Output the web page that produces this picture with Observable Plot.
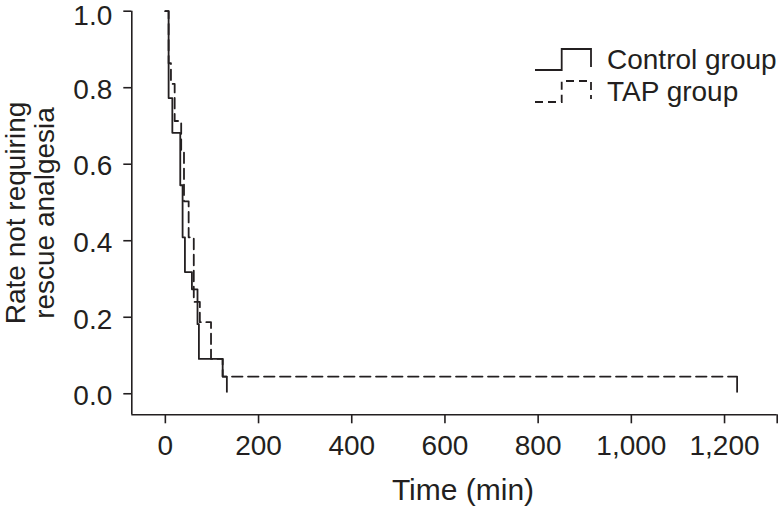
<!DOCTYPE html>
<html>
<head>
<meta charset="utf-8">
<script src="https://cdn.jsdelivr.net/npm/d3@7"></script>
<script src="https://cdn.jsdelivr.net/npm/@observablehq/plot@0.6"></script>
<style>
  html, body { margin: 0; padding: 0; background: #fff; }
  #wrap { position: relative; width: 779px; height: 506px; overflow: hidden; }
  #legend { position: absolute; left: 0; top: 0; pointer-events: none; }
  #wrap svg [aria-label$="tick"], #wrap svg .tick line { stroke-width: 1.6px; }
</style>
</head>
<body>
<div id="wrap"></div>
<script>
// ---- data ----
const seriesNames = ["Control group", "TAP group"];

const controlTime = [0, 7, 15, 32, 37, 42, 57, 69, 72, 123, 132];
const controlSurv = [1.0, 0.773, 0.682, 0.545, 0.409, 0.318, 0.273, 0.182, 0.091, 0.045, 0.045];

const tapTime = [0, 7, 12, 20, 34, 40, 50, 61, 74, 98, 123, 1227];
const tapSurv = [1.0, 0.864, 0.81, 0.713, 0.635, 0.503, 0.409, 0.24, 0.187, 0.091, 0.045, 0.045];

const censorTime = [132, 1227];
const censorSurv = [0.045, 0.045];

const xTicks = [0, 200, 400, 600, 800, 1000, 1200];
const xTickLabels = ["0", "200", "400", "600", "800", "1,000", "1,200"];
const yTicks = [0, 0.2, 0.4, 0.6, 0.8, 1.0];
const yTickLabels = ["0.0", "0.2", "0.4", "0.6", "0.8", "1.0"];

const xLabel = "Time (min)";
const yLabel = "Rate not requiring\nrescue analgesia";

// ---- build tables ----
const ink = "#231f20";
const font = "'Liberation Sans', Arial, Helvetica, sans-serif";
const xDomain = [-72, 1313];
const yDomain = [-0.055, 1.0];

const control = controlTime.map((t, i) => ({t, s: controlSurv[i]}));
const tap = tapTime.map((t, i) => ({t, s: tapSurv[i]}));
const censored = censorTime.map((t, i) => ({t, s: censorSurv[i]}));
const yTickRows = yTicks.map((v, i) => ({v, label: yTickLabels[i]}));
const yTop = yDomain[1];
const yTickRowsInner = yTickRows.filter(d => d.v < yTop);
const yTickRowsTop = yTickRows.filter(d => d.v >= yTop);

const censorTick = {
  draw(context) {
    context.moveTo(0, 0.5);
    context.lineTo(0, 16);
  }
};

const allXTicks = [...xTicks, xDomain[1]];
const yTickText = {x: undefined, y: "v", text: "label", frameAnchor: "left", textAnchor: "end", lineAnchor: "middle", dx: -19.5, fontSize: 28, fill: ink};

const chart = Plot.plot({
  width: 779,
  height: 506,
  marginLeft: 131.3,
  marginRight: 2.3,
  marginTop: 10.7,
  marginBottom: 91.7,
  style: {fontFamily: font, fontSize: "28px", color: ink, background: "#fff", overflow: "visible"},
  x: {
    domain: xDomain,
    ticks: allXTicks,
    tickFormat: d => { const i = xTicks.indexOf(d); return i < 0 ? "" : xTickLabels[i]; },
    tickSize: 9,
    tickPadding: 11,
    label: null
  },
  y: {
    domain: yDomain,
    ticks: yTicks,
    tickFormat: () => "",
    tickSize: 8,
    tickPadding: 11.5,
    label: null
  },
  marks: [
    Plot.ruleX([xDomain[0]], {stroke: ink, strokeWidth: 1.6}),
    Plot.ruleY([yDomain[0]], {stroke: ink, strokeWidth: 1.6}),
    Plot.text(yTickRowsInner, {...yTickText, dy: 2.3}),
    Plot.text(yTickRowsTop, {...yTickText, dy: 5.2}),
    Plot.line(tap, {x: "t", y: "s", curve: "step-after", stroke: ink, strokeWidth: 1.8, strokeDasharray: "10.5,5.5"}),
    Plot.line(control, {x: "t", y: "s", curve: "step-after", stroke: ink, strokeWidth: 1.8}),
    Plot.dot(censored, {x: "t", y: "s", symbol: censorTick, stroke: ink, fill: "none", strokeWidth: 1.8}),
    Plot.text([xLabel], {text: d => d, frameAnchor: "bottom", textAnchor: "middle", lineAnchor: "middle", dx: 8.5, dy: 75.8, fontSize: 30, fill: ink}),
    Plot.text([yLabel], {text: d => d, frameAnchor: "left", textAnchor: "middle", lineAnchor: "middle", rotate: -90, dx: -101.6, lineHeight: 1.05, fontSize: 28, fill: ink})
  ]
});

const wrap = document.getElementById("wrap");
wrap.appendChild(chart);

// ---- legend (overlay) ----
const ns = "http://www.w3.org/2000/svg";
const leg = document.createElementNS(ns, "svg");
leg.setAttribute("id", "legend");
leg.setAttribute("width", 779);
leg.setAttribute("height", 506);
const legendRows = [
  {name: seriesNames[0], dash: null, base: 70},
  {name: seriesNames[1], dash: "8,5", base: 102}
];
legendRows.forEach(r => {
  const p = document.createElementNS(ns, "path");
  p.setAttribute("d", `M535,${r.base} H561.7 V${r.base - 21} H591 V${r.base - 3}`);
  p.setAttribute("fill", "none");
  p.setAttribute("stroke", ink);
  p.setAttribute("stroke-width", 1.8);
  if (r.dash) p.setAttribute("stroke-dasharray", r.dash);
  leg.appendChild(p);
  const t = document.createElementNS(ns, "text");
  t.setAttribute("x", 607);
  t.setAttribute("y", r.base - 1);
  t.setAttribute("fill", ink);
  t.setAttribute("font-family", font);
  t.setAttribute("font-size", 28);
  t.textContent = r.name;
  leg.appendChild(t);
});
wrap.appendChild(leg);
</script>
</body>
</html>
